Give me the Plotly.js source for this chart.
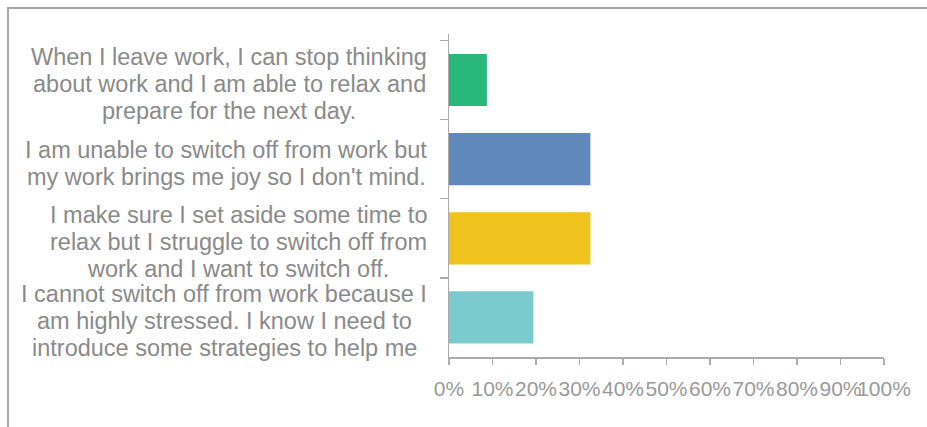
<!DOCTYPE html>
<html>
<head>
<meta charset="utf-8">
<script src="https://cdn.plot.ly/plotly-3.0.1.min.js"></script>
<style>
  html, body { margin: 0; padding: 0; background: #fff; }
  #wrap { position: relative; width: 927px; height: 427px; overflow: hidden; }
  #frame { position: absolute; left: 7px; top: 7px; width: 930px; height: 430px;
           border-top: 2px solid #a8a8a8; border-left: 2px solid #a8a8a8; pointer-events: none; }
  #chart { position: absolute; left: 0; top: 0; width: 927px; height: 427px; }
</style>
</head>
<body>
<div id="wrap">
  <div id="chart"></div>
  <div id="frame"></div>
</div>
<script>
// ---- data ----
const categories = [
  "When I leave work, I can stop thinking<br>about work and I am able to relax and<br>prepare for the next day.",
  "I am unable to switch off from work but<br>my work brings me joy so I don't mind.",
  "I make sure I set aside some time to<br>relax but I struggle to switch off from<br>work and I want to switch off.",
  "I cannot switch off from work because I<br>am highly stressed. I know I need to<br>introduce some strategies to help me"
];
const values = [8.7, 32.5, 32.5, 19.4];
const xTickVals = [0, 10, 20, 30, 40, 50, 60, 70, 80, 90, 100];
const xTickLabels = ["0%", "10%", "20%", "30%", "40%", "50%", "60%", "70%", "80%", "90%", "100%"];

// ---- styles ----
const barColors = ["#29b77b", "#5f89bb", "#f1c31e", "#7bcacd"];
const labelColor = "#8a8a8a";
const axisColor = "#ababab";
const labelFontFamily = "Liberation Sans, Arial, sans-serif";
const labelFontSize = 23.5;
const lineSpacing = 27;   // px between label lines
const labelGap = 22;      // px between label block and axis
const labelDrop = 4;      // px label block sits below bar centre

const trace = {
  type: "bar",
  orientation: "h",
  x: values,
  y: categories,
  marker: { color: barColors, line: { width: 0 } },
  hoverinfo: "none"
};

// measure text to centre each label block (right edge of widest line at the gap)
const cv = document.createElement("canvas").getContext("2d");
cv.font = labelFontSize + "px 'Liberation Sans', Arial, sans-serif";

const annotations = [];
categories.forEach(function (c) {
  const lines = c.split("<br>");
  const maxW = Math.max.apply(null, lines.map(function (l) { return cv.measureText(l).width; }));
  const n = lines.length;
  lines.forEach(function (l, j) {
    annotations.push({
      text: l,
      xref: "paper", x: 0, xanchor: "center", xshift: -labelGap - maxW / 2,
      yref: "y", y: c, yanchor: "middle",
      yshift: -((j - (n - 1) / 2) * lineSpacing) - labelDrop,
      showarrow: false,
      font: { family: labelFontFamily, size: labelFontSize, color: labelColor }
    });
  });
});

const layout = {
  width: 927, height: 427,
  autosize: false,
  margin: { l: 449, r: 43, t: 34, b: 70, pad: 0 },
  paper_bgcolor: "rgba(0,0,0,0)",
  plot_bgcolor: "#ffffff",
  showlegend: false,
  bargap: 0.34,
  xaxis: {
    range: [0, 100],
    tickvals: xTickVals,
    ticktext: xTickLabels,
    tickangle: 0,
    ticks: "outside",
    ticklen: 6,
    tickwidth: 1.5,
    tickcolor: axisColor,
    ticklabelstandoff: 6,
    showline: true,
    linecolor: axisColor,
    linewidth: 1.5,
    showgrid: false,
    zeroline: false,
    fixedrange: true,
    tickfont: { family: labelFontFamily, size: 21, color: "#999999" }
  },
  yaxis: {
    type: "category",
    autorange: "reversed",
    tickson: "boundaries",
    ticks: "outside",
    ticklen: 8,
    tickwidth: 1.5,
    tickcolor: axisColor,
    showline: true,
    linecolor: axisColor,
    linewidth: 1.5,
    showgrid: false,
    zeroline: false,
    showticklabels: false,
    fixedrange: true
  },
  annotations: annotations
};

Plotly.newPlot("chart", [trace], layout, { displayModeBar: false, staticPlot: true });
</script>
</body>
</html>
